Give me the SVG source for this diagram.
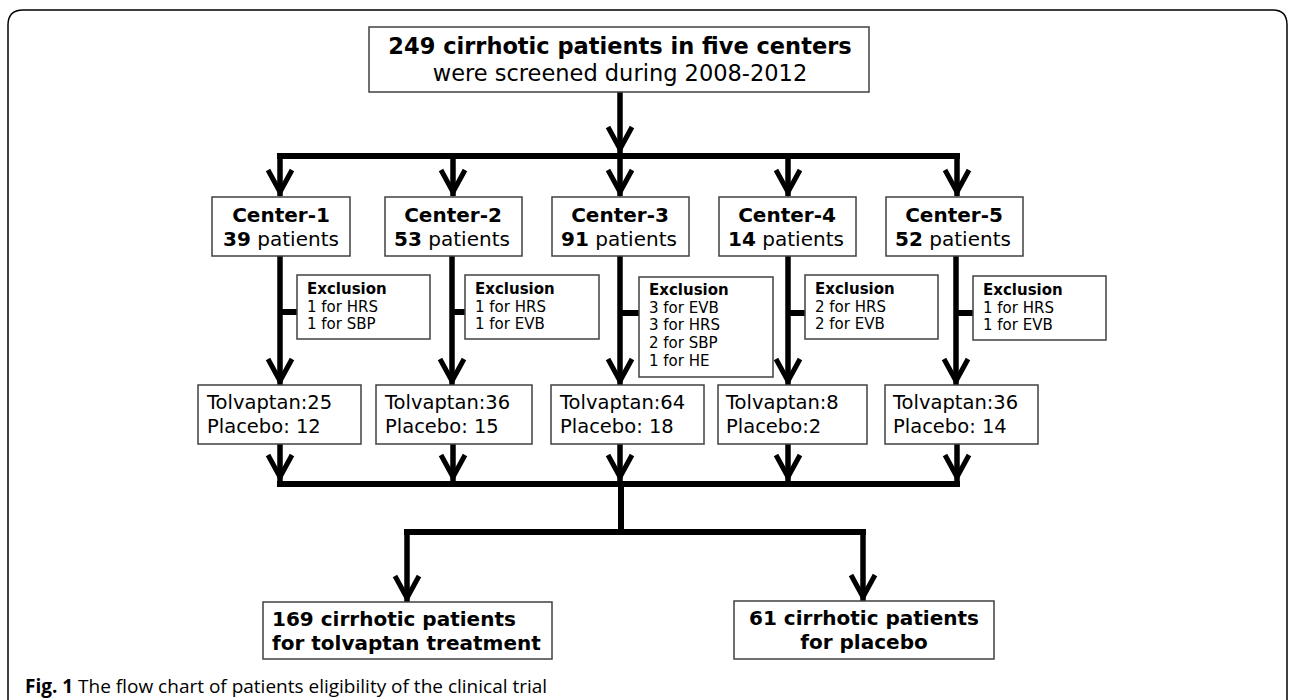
<svg xmlns="http://www.w3.org/2000/svg" width="1290" height="700" viewBox="0 0 1290 700">
<style>
.box{fill:#fff;stroke:#404040;stroke-width:1.5}
.ln{fill:none;stroke:#000;stroke-width:6;stroke-linecap:butt}
.ar{fill:none;stroke:#000;stroke-width:5.5}
text{font-family:"DejaVu Sans",Verdana,sans-serif;fill:#000}
.b{font-weight:bold}
.top{font-size:22.5px}
.ctr{font-size:20px}
.exc{font-size:15px}
.tp{font-size:19.5px}
.bot{font-size:20px;font-weight:bold}
.cap{font-family:"Open Sans","Liberation Sans",sans-serif;font-size:19px}
</style>
<defs>
<marker id="arr" markerUnits="userSpaceOnUse" markerWidth="40" markerHeight="40" viewBox="-30 -20 40 40" refX="0" refY="0" orient="auto">
<path d="M-26,-12 L-4,0 L-26,12" fill="none" stroke="#000" stroke-width="5" stroke-linejoin="miter"/>
</marker>
</defs>
<path d="M8,700 L8,25 Q8,10 23,10 L1273,10 Q1287,10 1287,25 L1287,700" fill="none" stroke="#000" stroke-width="1.5"/>

<g id="connectors">
<line class="ar" x1="620" y1="92" x2="620" y2="153" marker-end="url(#arr)"/>
<line class="ln" x1="277" y1="156" x2="960" y2="156"/>
<line class="ar" x1="280" y1="156" x2="280" y2="196" marker-end="url(#arr)"/>
<line class="ar" x1="453" y1="156" x2="453" y2="196" marker-end="url(#arr)"/>
<line class="ar" x1="620" y1="156" x2="620" y2="196" marker-end="url(#arr)"/>
<line class="ar" x1="788" y1="156" x2="788" y2="196" marker-end="url(#arr)"/>
<line class="ar" x1="957" y1="153" x2="957" y2="196" marker-end="url(#arr)"/>

<line class="ar" x1="280" y1="256" x2="280" y2="385" marker-end="url(#arr)"/>
<line class="ar" x1="452" y1="256" x2="452" y2="385" marker-end="url(#arr)"/>
<line class="ar" x1="620" y1="256" x2="620" y2="385" marker-end="url(#arr)"/>
<line class="ar" x1="788" y1="256" x2="788" y2="385" marker-end="url(#arr)"/>
<line class="ar" x1="956" y1="256" x2="956" y2="385" marker-end="url(#arr)"/>
<line class="ln" x1="280" y1="312" x2="297" y2="312"/>
<line class="ln" x1="452" y1="312" x2="465" y2="312"/>
<line class="ln" x1="620" y1="313" x2="639" y2="313"/>
<line class="ln" x1="788" y1="313" x2="805" y2="313"/>
<line class="ln" x1="956" y1="313" x2="973" y2="313"/>

<line class="ar" x1="280" y1="444" x2="280" y2="481" marker-end="url(#arr)"/>
<line class="ar" x1="453" y1="444" x2="453" y2="481" marker-end="url(#arr)"/>
<line class="ar" x1="620" y1="444" x2="620" y2="481" marker-end="url(#arr)"/>
<line class="ar" x1="788" y1="444" x2="788" y2="481" marker-end="url(#arr)"/>
<line class="ar" x1="957" y1="444" x2="957" y2="481" marker-end="url(#arr)"/>
<line class="ln" x1="277" y1="484" x2="960" y2="484"/>
<line class="ln" x1="621" y1="484" x2="621" y2="532"/>
<line class="ln" x1="404" y1="532" x2="866" y2="532"/>
<line class="ar" x1="407" y1="532" x2="407" y2="602" marker-end="url(#arr)"/>
<line class="ar" x1="863" y1="532" x2="863" y2="601" marker-end="url(#arr)"/>
</g>

<g id="top">
<rect class="box" x="369" y="27" width="500" height="65"/>
<text class="top b" x="620" y="54" text-anchor="middle">249 cirrhotic patients in five centers</text>
<text class="top" x="620" y="81" text-anchor="middle">were screened during 2008-2012</text>
</g>

<g id="center1">
<rect class="box" x="212" y="197" width="138" height="59"/>
<text class="ctr b" x="281" y="222" text-anchor="middle">Center-1</text>
<text class="ctr" x="281" y="246" text-anchor="middle"><tspan class="b">39</tspan> patients</text>
</g>
<g id="center2">
<rect class="box" x="385" y="197" width="137" height="59"/>
<text class="ctr b" x="453" y="222" text-anchor="middle">Center-2</text>
<text class="ctr" x="452" y="246" text-anchor="middle"><tspan class="b">53</tspan> patients</text>
</g>
<g id="center3">
<rect class="box" x="552" y="197" width="137" height="59"/>
<text class="ctr b" x="620" y="222" text-anchor="middle">Center-3</text>
<text class="ctr" x="619" y="246" text-anchor="middle"><tspan class="b">91</tspan> patients</text>
</g>
<g id="center4">
<rect class="box" x="719" y="197" width="137" height="59"/>
<text class="ctr b" x="787" y="222" text-anchor="middle">Center-4</text>
<text class="ctr" x="786" y="246" text-anchor="middle"><tspan class="b">14</tspan> patients</text>
</g>
<g id="center5">
<rect class="box" x="886" y="197" width="137" height="59"/>
<text class="ctr b" x="954" y="222" text-anchor="middle">Center-5</text>
<text class="ctr" x="953" y="246" text-anchor="middle"><tspan class="b">52</tspan> patients</text>
</g>

<g id="excl1">
<rect class="box" x="297" y="275" width="133" height="64"/>
<text class="exc b" x="307" y="294">Exclusion</text>
<text class="exc" x="307" y="312">1 for HRS</text>
<text class="exc" x="307" y="329">1 for SBP</text>
</g>
<g id="excl2">
<rect class="box" x="465" y="275" width="134" height="64"/>
<text class="exc b" x="475" y="294">Exclusion</text>
<text class="exc" x="475" y="312">1 for HRS</text>
<text class="exc" x="475" y="329">1 for EVB</text>
</g>
<g id="excl3">
<rect class="box" x="639" y="277" width="134" height="100"/>
<text class="exc b" x="649" y="295">Exclusion</text>
<text class="exc" x="649" y="313">3 for EVB</text>
<text class="exc" x="649" y="330">3 for HRS</text>
<text class="exc" x="649" y="348">2 for SBP</text>
<text class="exc" x="649" y="366">1 for HE</text>
</g>
<g id="excl4">
<rect class="box" x="805" y="275" width="133" height="64"/>
<text class="exc b" x="815" y="294">Exclusion</text>
<text class="exc" x="815" y="312">2 for HRS</text>
<text class="exc" x="815" y="329">2 for EVB</text>
</g>
<g id="excl5">
<rect class="box" x="973" y="276" width="133" height="64"/>
<text class="exc b" x="983" y="295">Exclusion</text>
<text class="exc" x="983" y="313">1 for HRS</text>
<text class="exc" x="983" y="330">1 for EVB</text>
</g>

<g id="arm1">
<rect class="box" x="198" y="385" width="163" height="59"/>
<text class="tp" x="207" y="409">Tolvaptan:25</text>
<text class="tp" x="207" y="433">Placebo: 12</text>
</g>
<g id="arm2">
<rect class="box" x="376" y="385" width="156" height="59"/>
<text class="tp" x="385" y="409">Tolvaptan:36</text>
<text class="tp" x="385" y="433">Placebo: 15</text>
</g>
<g id="arm3">
<rect class="box" x="551" y="385" width="153" height="59"/>
<text class="tp" x="560" y="409">Tolvaptan:64</text>
<text class="tp" x="560" y="433">Placebo: 18</text>
</g>
<g id="arm4">
<rect class="box" x="718" y="385" width="149" height="59"/>
<text class="tp" x="726" y="409">Tolvaptan:8</text>
<text class="tp" x="726" y="433">Placebo:2</text>
</g>
<g id="arm5">
<rect class="box" x="885" y="385" width="153" height="59"/>
<text class="tp" x="893" y="409">Tolvaptan:36</text>
<text class="tp" x="893" y="433">Placebo: 14</text>
</g>

<g id="tolvaptan">
<rect class="box" x="263" y="602" width="289" height="57"/>
<text class="bot" x="272" y="626">169 cirrhotic patients</text>
<text class="bot" x="272" y="650">for tolvaptan treatment</text>
</g>
<g id="placebo">
<rect class="box" x="734" y="601" width="260" height="58"/>
<text class="bot" x="864" y="625" text-anchor="middle">61 cirrhotic patients</text>
<text class="bot" x="864" y="649" text-anchor="middle">for placebo</text>
</g>

<text class="cap" x="25" y="693"><tspan font-weight="bold">Fig. 1</tspan> The flow chart of patients eligibility of the clinical trial</text>
</svg>
